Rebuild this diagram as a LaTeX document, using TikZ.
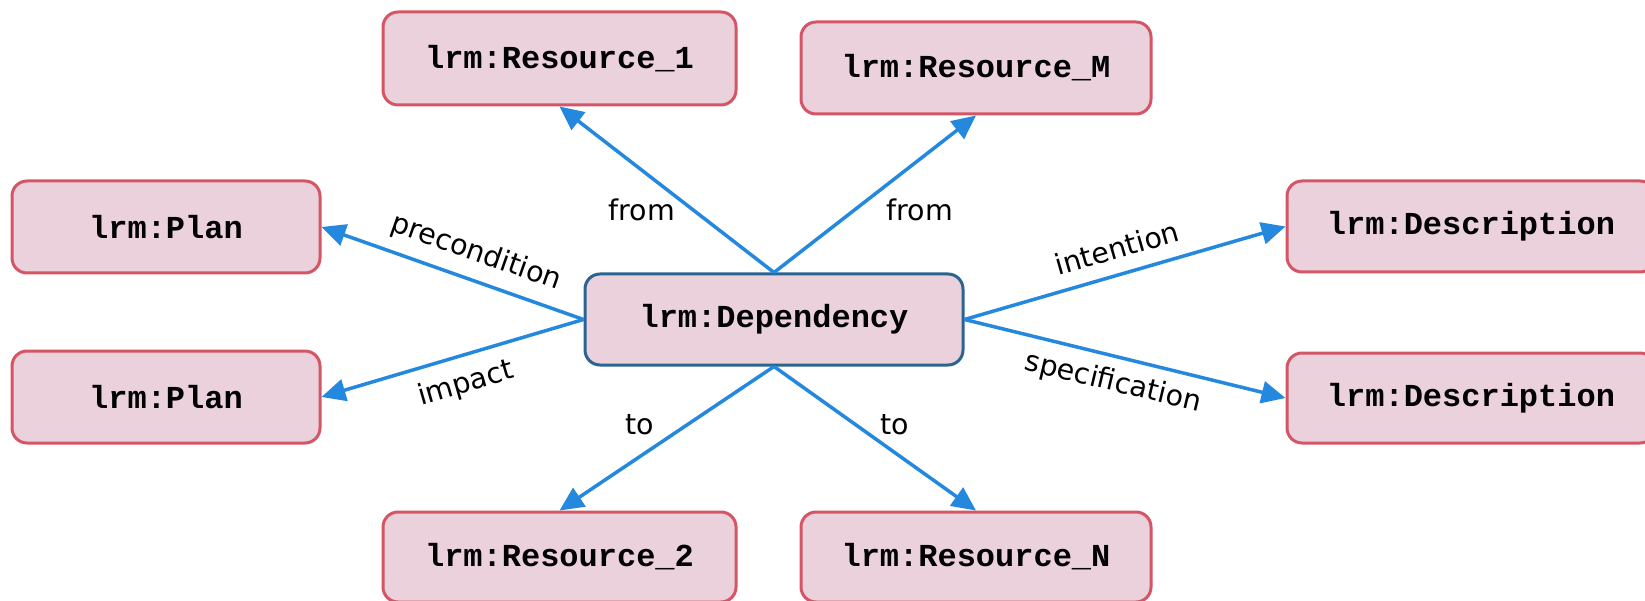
\documentclass[tikz,border=0pt]{standalone}
\usepackage{fontspec}
\setmainfont{DejaVu Sans}
\setmonofont{Liberation Mono}
\usetikzlibrary{arrows.meta}
\definecolor{boxfill}{HTML}{EAD1DC}
\definecolor{boxred}{HTML}{D45565}
\definecolor{boxblue}{HTML}{2A6491}
\definecolor{linkblue}{HTML}{2388DE}
\begin{document}
\begin{tikzpicture}[x=1pt,y=-1pt,
  cls/.style={draw=boxred, fill=boxfill, line width=3pt, rounded corners=15pt,
    inner sep=0pt, font=\ttfamily\bfseries\fontsize{32}{38}\selectfont},
  hub/.style={cls, draw=boxblue},
  link/.style={draw=linkblue, line width=3.5pt, -{Triangle[length=24pt,width=22pt]}},
  lbl/.style={font=\fontsize{28.5}{34}\selectfont, inner sep=0pt}]
\useasboundingbox (0,0) rectangle (1645,601);

% central dependency
\node[hub, minimum width=378pt, minimum height=91pt] (dep) at (774,319.5) {lrm:Dependency};

% related classes
\node[cls, minimum width=353pt, minimum height=93pt] (r1) at (559.5,58.5) {lrm:Resource\_1};
\node[cls, minimum width=350pt, minimum height=92pt] (rM) at (976,68) {lrm:Resource\_M};
\node[cls, minimum width=353pt, minimum height=90pt] (r2) at (559.5,557) {lrm:Resource\_2};
\node[cls, minimum width=350pt, minimum height=90pt] (rN) at (976,557) {lrm:Resource\_N};
\node[cls, minimum width=308pt, minimum height=92pt] (p1) at (166,227) {lrm:Plan};
\node[cls, minimum width=308pt, minimum height=92pt] (p2) at (166,397) {lrm:Plan};
\node[cls, minimum width=368pt, minimum height=91pt] (d1) at (1471,226.5) {lrm:Description};
\node[cls, minimum width=368pt, minimum height=90pt] (d2) at (1471,398) {lrm:Description};

% properties
\draw[link] (dep.north) -- (r1.south);
\draw[link] (dep.north) -- (rM.south);
\draw[link] (dep.south) -- (r2.north);
\draw[link] (dep.south) -- (rN.north);
\draw[link] (dep.west) -- (p1.east);
\draw[link] (dep.west) -- (p2.east);
\draw[link] (dep.east) -- (d1.west);
\draw[link] (dep.east) -- (d2.west);

% property labels
\node[lbl] (lf1) at (642,210) {from};
\node[lbl] (lf2) at (920,210) {from};
\node[lbl] (lt1) at (640,425) {to};
\node[lbl] (lt2) at (895,425) {to};
\node[lbl, rotate=-19.3] (lpre) at (476,253) {precondition};
\node[lbl, rotate=16.2] (limp) at (466,384) {impact};
\node[lbl, rotate=16] (lint) at (1117,248) {intention};
\node[lbl, rotate=-13.4] (lspec) at (1113,383) {specification};
\end{tikzpicture}
\end{document}
